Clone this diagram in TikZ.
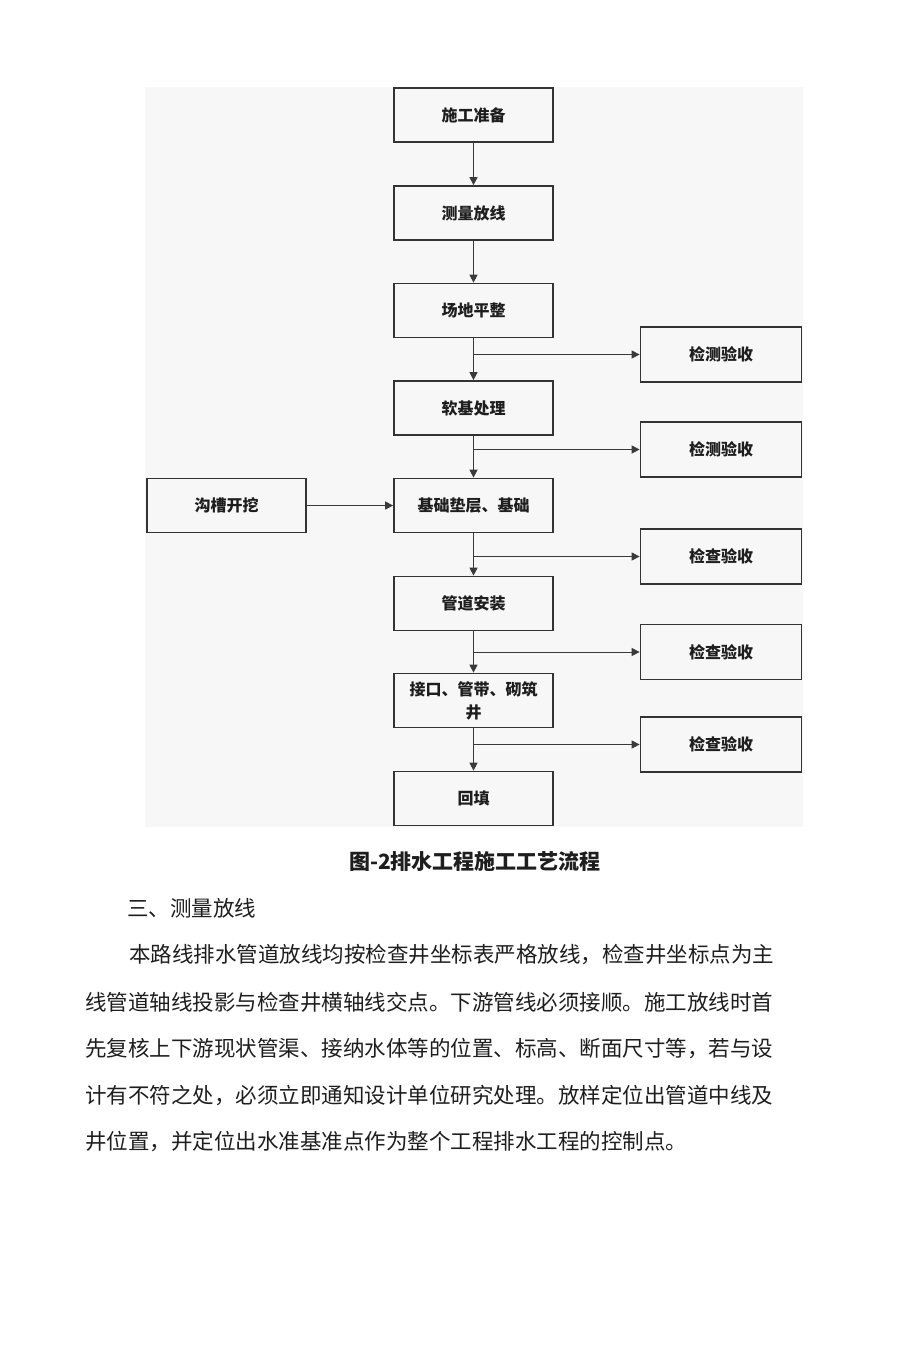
\documentclass[tikz,border=0pt]{standalone}
\usepackage{fontspec}
\setmainfont{Noto Sans CJK SC}
\usetikzlibrary{arrows.meta}
\definecolor{bgc}{HTML}{F7F7F7}
\definecolor{boxc}{HTML}{333333}
\definecolor{linec}{HTML}{3A3A3A}
\definecolor{txtc}{HTML}{1E1E1E}
\tikzset{
  flowbox/.style={draw=boxc, line width=1.7pt, minimum width=159pt, minimum height=54pt,
    inner sep=0pt, align=center, text=txtc, font=\fontsize{16pt}{23pt}\selectfont\bfseries},
  checkbox/.style={flowbox, minimum width=161pt, minimum height=55pt},
  arr/.style={draw=linec, line width=0.9pt, -{Triangle[length=8pt,width=8pt]}},
  bodytext/.style={anchor=west, inner sep=0pt, text=txtc, font=\fontsize{21.5pt}{24pt}\selectfont}
}
\begin{document}
\begin{tikzpicture}[x=1pt,y=-1pt]
\useasboundingbox (0,0) rectangle (920,1361);
\fill[white] (0,0) rectangle (920,1361);
\fill[bgc] (145,87) rectangle (803,827);

% main column
\node[flowbox] (n1) at (473.5,115) {施工准备};
\node[flowbox] (n2) at (473.5,213) {测量放线};
\node[flowbox] (n3) at (473.5,310.5) {场地平整};
\node[flowbox] (n4) at (473.5,408) {软基处理};
\node[flowbox] (n5) at (473.5,505.5) {基础垫层、基础};
\node[flowbox] (n6) at (473.5,603.5) {管道安装};
\node[flowbox] (n7) at (473.5,700.5) {接口、管带、砌筑\\井};
\node[flowbox] (n8) at (473.5,798.5) {回填};

% left box
\node[flowbox] (l1) at (226.5,505.5) {沟槽开挖};

% right boxes
\node[checkbox] (r1) at (721,354.5) {检测验收};
\node[checkbox] (r2) at (721,449.5) {检测验收};
\node[checkbox] (r3) at (721,556.5) {检查验收};
\node[checkbox] (r4) at (721,652) {检查验收};
\node[checkbox] (r5) at (721,744.5) {检查验收};

% branch points
\coordinate (b1) at (473.5,354.5);
\coordinate (b2) at (473.5,449.5);
\coordinate (b3) at (473.5,556.5);
\coordinate (b4) at (473.5,652);
\coordinate (b5) at (473.5,744.5);

% vertical arrows
\draw[arr] (n1) -- (n2);
\draw[arr] (n2) -- (n3);
\draw[arr] (n3) -- (n4);
\draw[arr] (n4) -- (n5);
\draw[arr] (n5) -- (n6);
\draw[arr] (n6) -- (n7);
\draw[arr] (n7) -- (n8);

% branch arrows
\draw[arr] (b1) -- (r1);
\draw[arr] (b2) -- (r2);
\draw[arr] (b3) -- (r3);
\draw[arr] (b4) -- (r4);
\draw[arr] (b5) -- (r5);

% left arrow
\draw[arr] (l1) -- (n5);

% caption and body
\node[anchor=center, inner sep=0pt, text=txtc, font=\fontsize{21pt}{24pt}\selectfont\bfseries] (cap) at (475,861) {图-2排水工程施工工艺流程};
\node[bodytext] (h3) at (127,908) {三、测量放线};
\node[bodytext] (p1) at (129,955) {本路线排水管道放线均按检查井坐标表严格放线，检查井坐标点为主};
\node[bodytext] (p2) at (85,1002) {线管道轴线投影与检查井横轴线交点。下游管线必须接顺。施工放线时首};
\node[bodytext] (p3) at (85,1049) {先复核上下游现状管渠、接纳水体等的位置、标高、断面尺寸等，若与设};
\node[bodytext] (p4) at (85,1096) {计有不符之处，必须立即通知设计单位研究处理。放样定位出管道中线及};
\node[bodytext] (p5) at (85,1142) {井位置，并定位出水准基准点作为整个工程排水工程的控制点。};
\end{tikzpicture}
\end{document}
